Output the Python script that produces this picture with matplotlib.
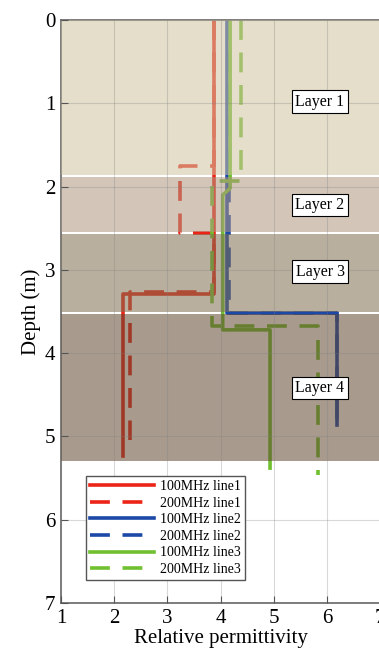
import matplotlib.pyplot as plt

plt.rcParams['font.family'] = ['Liberation Serif', 'DejaVu Serif']

# layer boundaries (depth, m) and fill colours
layer_top = [0.0, 1.89, 2.57, 3.53]
layer_bot = [1.86, 2.54, 3.50, 5.29]
layer_col = ['#cec3a0', '#af9780', '#7e6e50', '#614932']
layer_txt = ['Layer 1', 'Layer 2', 'Layer 3', 'Layer 4']
layer_txt_depth = [0.98, 2.22, 3.02, 4.42]

# permittivity profiles (x = relative permittivity, y = depth)
l1_100_x = [3.88, 3.88, 2.16, 2.16]
l1_100_y = [0.0, 3.29, 3.29, 5.24]
l1_200_x = [3.87, 3.87, 3.24, 3.24, 3.87, 3.87, 2.30, 2.30]
l1_200_y = [0.0, 1.75, 1.75, 2.56, 2.56, 3.27, 3.27, 5.04]
l2_100_x = [4.13, 4.13, 6.19, 6.19]
l2_100_y = [0.0, 3.52, 3.52, 4.86]
l2_200_x = [4.16, 4.16, 6.19, 6.19]
l2_200_y = [0.0, 3.52, 3.52, 4.86]
l3_100_x = [4.18, 4.18, 4.04, 4.04, 4.93, 4.93]
l3_100_y = [0.0, 2.02, 2.10, 3.72, 3.72, 5.38]
l3_200_x = [4.38, 4.38, 3.84, 3.84, 5.83, 5.83]
l3_200_y = [0.0, 1.93, 1.93, 3.67, 3.67, 5.46]

red = '#ec2418'
blue = '#1c48a8'
green = '#70c030'

fig = plt.figure(figsize=(3.79, 6.52), dpi=100)
ax = fig.add_axes([0.161, 0.0752, 0.842, 0.894])

dash = (5.5, 3.5)
lw = 2.6
ax.plot(l1_100_x, l1_100_y, color=red, lw=lw, label='100MHz line1')
ax.plot(l1_200_x, l1_200_y, color=red, lw=lw, dashes=dash, label='200MHz line1')
ax.plot(l2_200_x, l2_200_y, color=blue, lw=lw, dashes=dash, label='200MHz line2')
ax.plot(l2_100_x, l2_100_y, color=blue, lw=lw, label='100MHz line2')
ax.plot(l3_100_x, l3_100_y, color=green, lw=lw, label='100MHz line3')
ax.plot(l3_200_x, l3_200_y, color=green, lw=lw, dashes=dash, label='200MHz line3')

# translucent layers drawn over the lines
for t, b, c in zip(layer_top, layer_bot, layer_col):
    ax.axhspan(t, b, color=c, alpha=0.55, lw=0, zorder=3)
for txt, d in zip(layer_txt, layer_txt_depth):
    ax.text(5.87, d, txt, ha='center', va='center', fontsize=11.5, zorder=6,
            bbox=dict(boxstyle='square,pad=0.2', fc='white', ec='black', lw=0.8))

ax.set_xlim(1, 7)
ax.set_ylim(7, 0)
ax.set_xticks(range(1, 8))
ax.set_yticks(range(0, 8))
ax.grid(True, color='#808080', alpha=0.3, lw=0.8)
ax.xaxis.set_zorder(4)
ax.yaxis.set_zorder(4)
ax.tick_params(direction='in', length=5, labelsize=15, color='#555555', pad=4)
for s in ax.spines.values():
    s.set_color('#666666')
    s.set_linewidth(1.2)

ax.set_xlabel('Relative permittivity', fontsize=15, labelpad=1)
ax.set_ylabel('Depth (m)', fontsize=15, labelpad=3)

# legend in the same order as the reference
h, l = ax.get_legend_handles_labels()
order = [0, 1, 3, 2, 4, 5]
leg = ax.legend([h[i] for i in order], [l[i] for i in order],
                loc='lower left', bbox_to_anchor=(0.078, 0.039), fontsize=10,
                handlelength=4.6, labelspacing=0.26, fancybox=False,
                edgecolor='#555555', framealpha=1, borderpad=0.3,
                handletextpad=0.4, borderaxespad=0)
leg.get_frame().set_linewidth(1.0)
leg.set_zorder(7)

fig.savefig('out.png', dpi=100)
